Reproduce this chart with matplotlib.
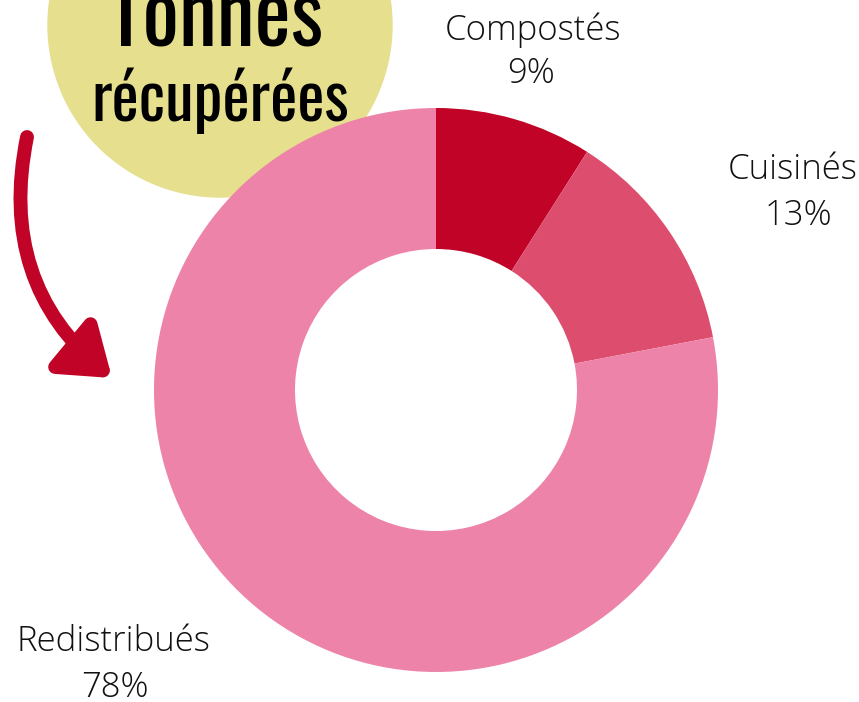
import matplotlib.pyplot as plt
from matplotlib.patches import Circle, FancyArrowPatch

# donnees
categories = ["Compostés", "Cuisinés", "Redistribués"]
parts = [9, 13, 78]
colors = ["#C00327", "#DD4D6D", "#EE83AA"]

W, H = 859, 702

fig = plt.figure(figsize=(W / 100, H / 100), dpi=100)
ax = fig.add_axes([0, 0, 1, 1])
ax.set_xlim(0, W)
ax.set_ylim(0, H)
ax.set_aspect("equal")
ax.axis("off")

# cercle jaune + titre
ax.add_patch(Circle((220, H - 25), 172, color="#E5DF8E", zorder=1))
title_font = dict(family=["Oswald", "Liberation Sans Narrow", "DejaVu Sans"], weight="bold",
                  color="black", ha="center", zorder=3)
ax.text(216, H - 45, "Tonnes", fontsize=62, va="baseline", **title_font)
ax.text(220, H - 121, "récupérées", fontsize=46.5, va="baseline", **title_font)

# fleche rouge
arrow = FancyArrowPatch((27, H - 137), (112, H - 378),
                        connectionstyle="arc3,rad=0.3",
                        arrowstyle="-|>,head_length=28,head_width=20",
                        shrinkA=0, shrinkB=0,
                        lw=10, color="#C00327", zorder=2)
ax.add_patch(arrow)

# donut
ax.pie(parts, colors=colors, startangle=90, counterclock=False,
       center=(436, H - 390), radius=282, frame=True,
       wedgeprops=dict(width=141, linewidth=0, zorder=4))
ax.set_xlim(0, W)
ax.set_ylim(0, H)
ax.axis("off")

lbl_font = dict(family=["Open Sans", "DejaVu Sans"], weight="light", fontsize=25,
                color="#111111", ha="center", va="center")
name_pos = [(533, 30), (793, 170), (113, 642)]
pct_pos = [(531, 74), (798, 216), (115, 688)]
for name, val, (x, y), (px, py) in zip(categories, parts, name_pos, pct_pos):
    ax.text(x, H - y, name, **lbl_font)
    ax.text(px, H - py, f"{val}%", **lbl_font)

fig.savefig("out.png", dpi=100)
